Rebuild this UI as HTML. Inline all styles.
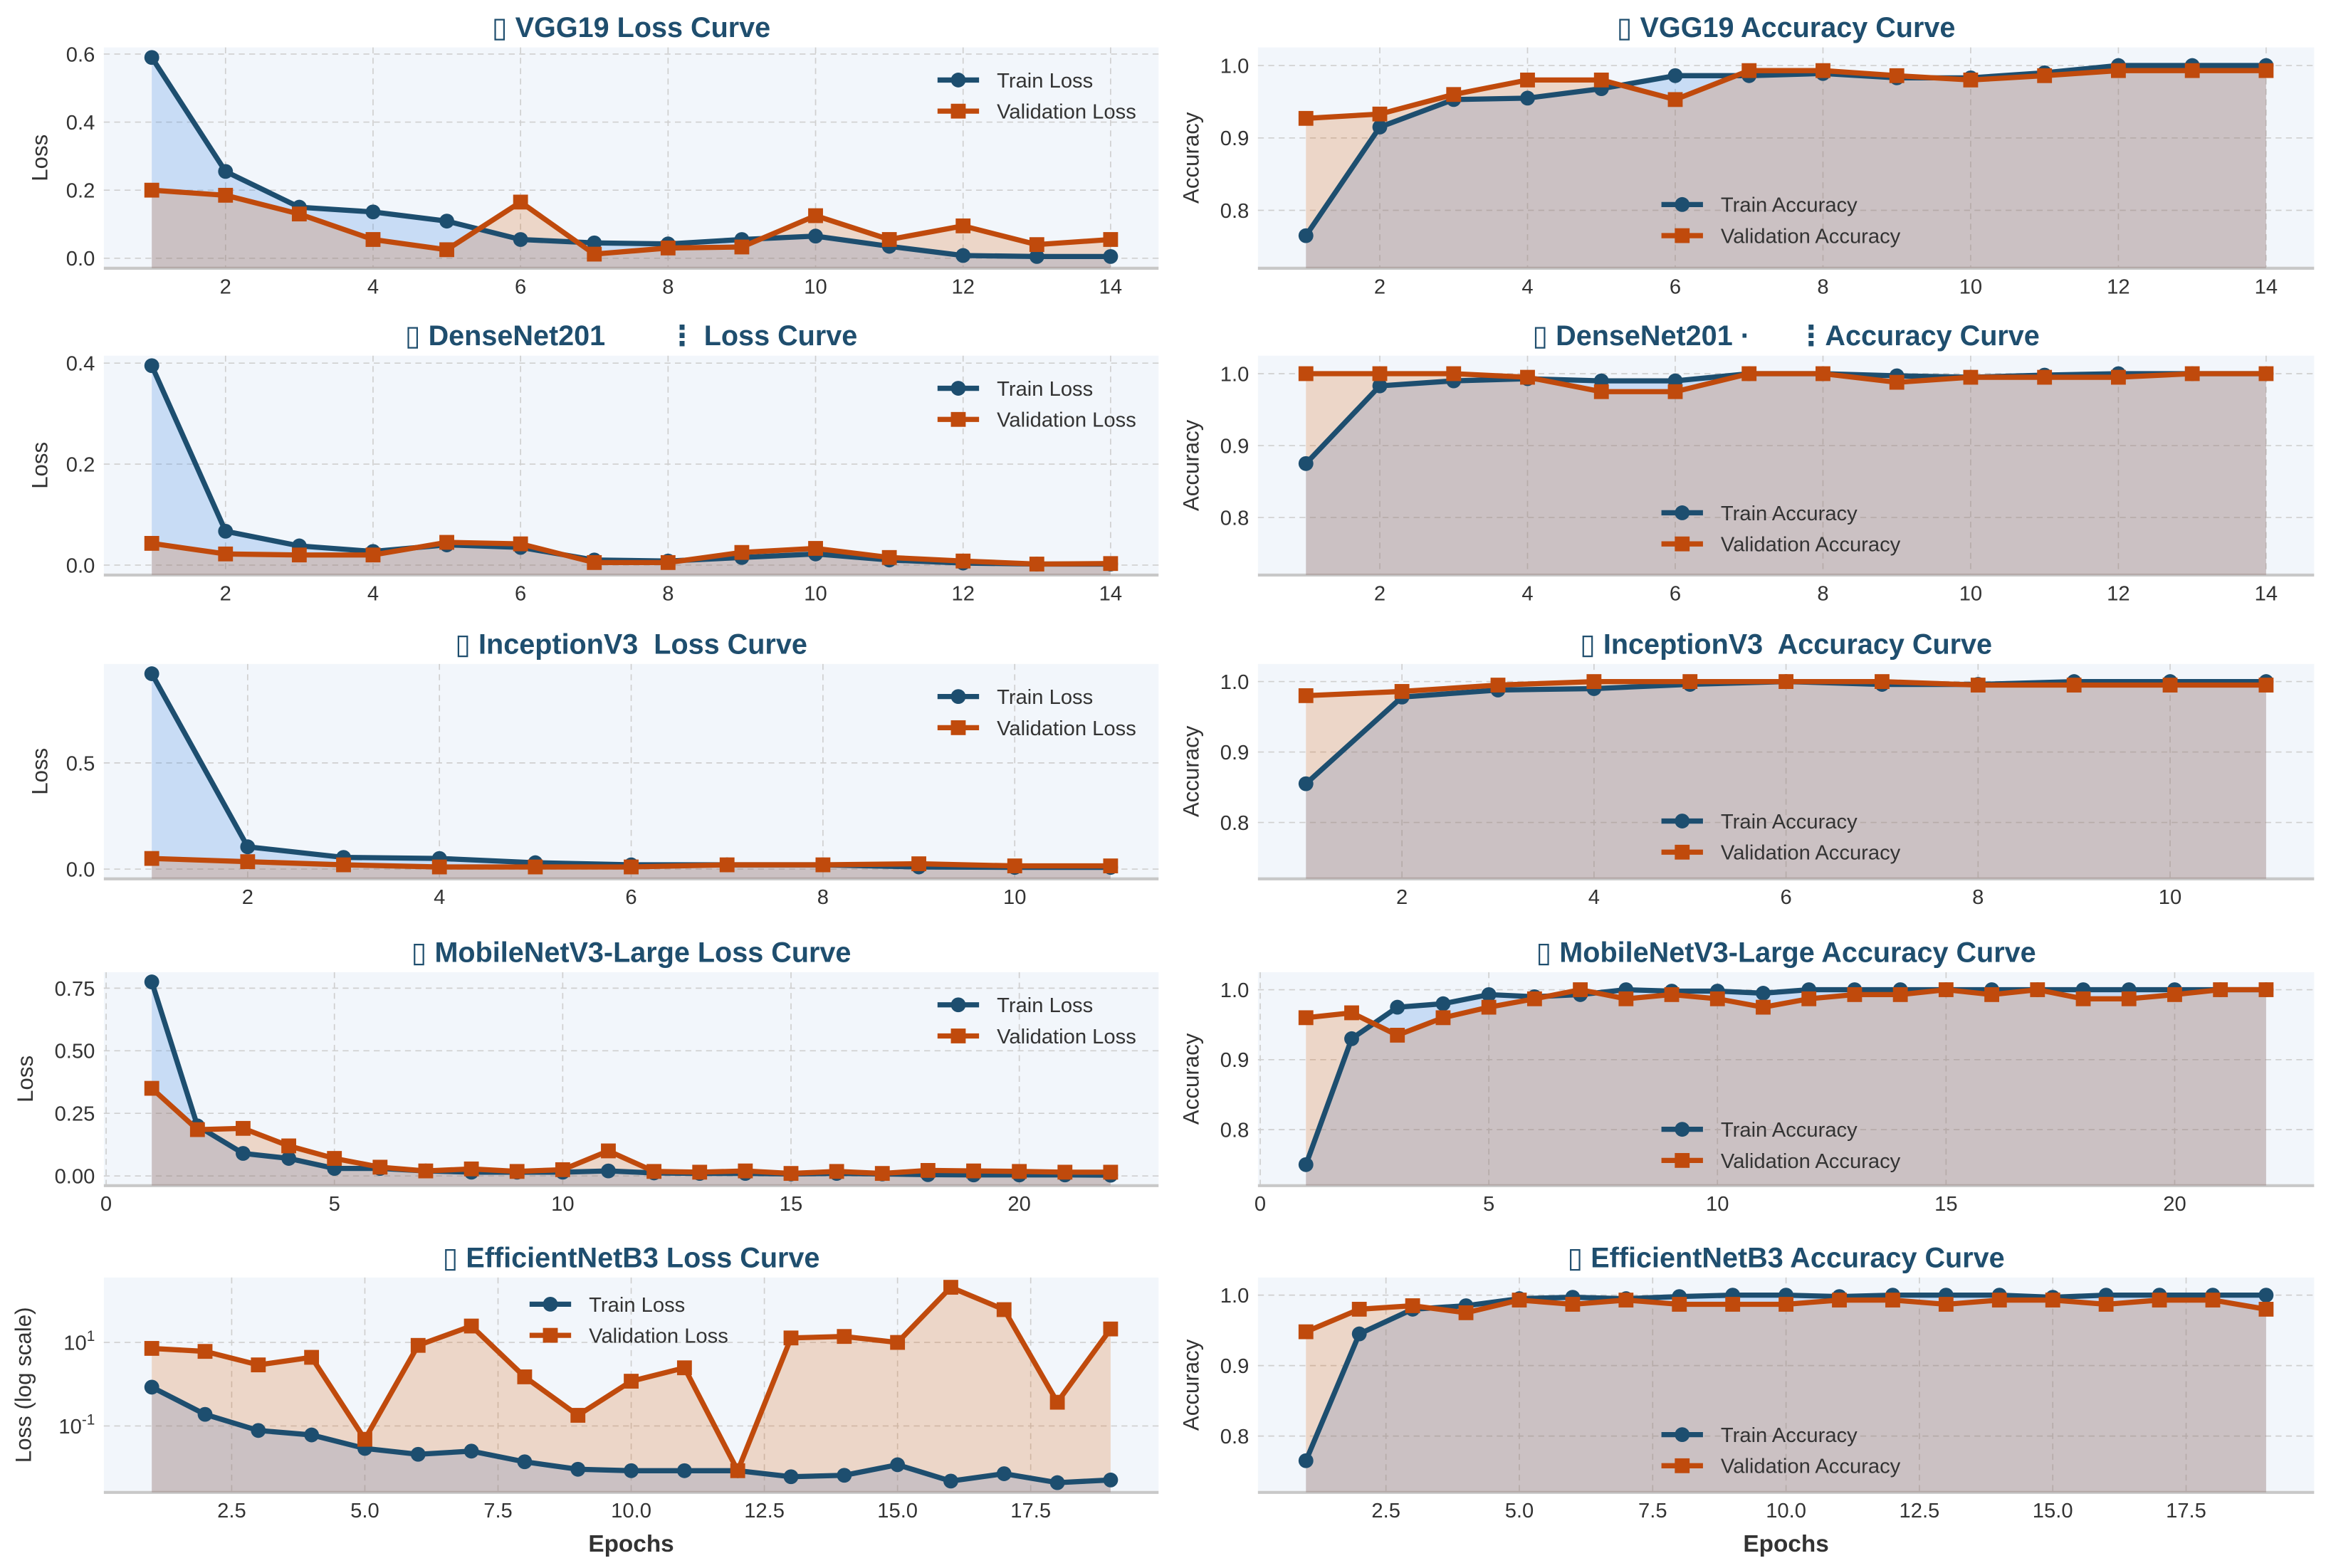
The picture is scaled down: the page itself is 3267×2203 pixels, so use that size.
<!DOCTYPE html>
<html><head><meta charset="utf-8">
<style>
html,body{margin:0;padding:0;background:#fff;}
svg{display:block;}
text{font-family:"Liberation Sans","DejaVu Sans",sans-serif;}
.pre{white-space:pre;}
</style></head>
<body>
<svg id="fig" xmlns="http://www.w3.org/2000/svg" width="3267" height="2203" viewBox="0 0 1568 1058" preserveAspectRatio="none"></svg>
<script>
// ---------- DATA ----------
const vggTrainLoss=[0.59,0.255,0.15,0.136,0.109,0.055,0.045,0.042,0.055,0.065,0.035,0.008,0.005,0.005];
const vggValLoss=[0.20,0.185,0.13,0.055,0.025,0.165,0.012,0.03,0.033,0.125,0.055,0.095,0.04,0.055];
const vggTrainAcc=[0.765,0.915,0.953,0.955,0.968,0.986,0.986,0.989,0.983,0.983,0.99,1.0,1.0,1.0];
const vggValAcc=[0.927,0.933,0.96,0.98,0.98,0.953,0.993,0.993,0.986,0.98,0.986,0.993,0.993,0.993];
const denseTrainLoss=[0.395,0.067,0.038,0.027,0.04,0.035,0.01,0.008,0.015,0.022,0.01,0.004,0.002,0.002];
const denseValLoss=[0.043,0.022,0.02,0.02,0.045,0.042,0.005,0.005,0.025,0.033,0.015,0.008,0.002,0.003];
const denseTrainAcc=[0.875,0.983,0.99,0.993,0.99,0.99,1.0,1.0,0.997,0.995,0.998,1.0,1.0,1.0];
const denseValAcc=[1.0,1.0,1.0,0.995,0.975,0.975,1.0,1.0,0.988,0.995,0.995,0.995,1.0,1.0];
const incTrainLoss=[0.92,0.105,0.055,0.05,0.03,0.02,0.02,0.02,0.01,0.008,0.008];
const incValLoss=[0.05,0.035,0.02,0.01,0.01,0.01,0.02,0.02,0.025,0.015,0.015];
const incTrainAcc=[0.855,0.978,0.988,0.99,0.996,1.0,0.996,0.996,1.0,1.0,1.0];
const incValAcc=[0.98,0.986,0.995,1.0,1.0,1.0,1.0,0.995,0.995,0.995,0.995];
const mobTrainLoss=[0.775,0.2,0.09,0.07,0.03,0.03,0.02,0.015,0.015,0.015,0.02,0.012,0.01,0.01,0.008,0.01,0.008,0.005,0.004,0.004,0.004,0.003];
const mobValLoss=[0.35,0.185,0.19,0.12,0.07,0.035,0.02,0.028,0.018,0.025,0.1,0.018,0.015,0.02,0.01,0.018,0.01,0.022,0.02,0.018,0.015,0.015];
const mobTrainAcc=[0.75,0.93,0.975,0.98,0.993,0.99,0.993,1.0,0.998,0.998,0.995,1.0,1.0,1.0,1.0,1.0,1.0,1.0,1.0,1.0,1.0,1.0];
const mobValAcc=[0.96,0.967,0.935,0.96,0.975,0.987,1.0,0.987,0.993,0.987,0.975,0.987,0.993,0.993,1.0,0.993,1.0,0.987,0.987,0.993,1.0,1.0];
const effTrainLoss=[0.85,0.19,0.078,0.061,0.029,0.021,0.025,0.0139,0.0092,0.0085,0.0085,0.0085,0.0061,0.0066,0.0118,0.0048,0.0072,0.0044,0.0051];
const effValLoss=[7.2,6.1,2.9,4.4,0.048,8.5,24.7,1.5,0.18,1.18,2.47,0.0085,12.8,13.9,10,209,61,0.37,21];
const effTrainAcc=[0.765,0.945,0.98,0.985,0.995,0.997,0.995,0.998,1.0,1.0,0.998,1.0,1.0,1.0,0.997,1.0,1.0,1.0,1.0];
const effValAcc=[0.948,0.98,0.985,0.975,0.993,0.987,0.993,0.987,0.987,0.987,0.993,0.993,0.987,0.993,0.993,0.987,0.993,0.993,0.98];
const modelNames=["VGG19","DenseNet201","InceptionV3","MobileNetV3-Large","EfficientNetB3"];
const lossTitles=["\u25AF VGG19 Loss Curve","\u25AF DenseNet201        \u22EE Loss Curve","\u25AF InceptionV3  Loss Curve","\u25AF MobileNetV3-Large Loss Curve","\u25AF EfficientNetB3 Loss Curve"];
const accTitles=["\u25AF VGG19 Accuracy Curve","\u25AF DenseNet201 \u00B7      \u22EEAccuracy Curve","\u25AF InceptionV3  Accuracy Curve","\u25AF MobileNetV3-Large Accuracy Curve","\u25AF EfficientNetB3 Accuracy Curve"];
const xTicksA=[2,4,6,8,10,12,14];
const xTicksInc=[2,4,6,8,10];
const xTicksMob=[0,5,10,15,20];
const xTicksEff=[2.5,5.0,7.5,10.0,12.5,15.0,17.5];
const yTicksVgg=[0,0.2,0.4,0.6];
const yTicksDense=[0,0.2,0.4];
const yTicksInc=[0,0.5];
const yTicksMob=[0,0.25,0.5,0.75];
const yTicksEff=[-1,1];
const yTicksAcc=[0.8,0.9,1.0];

// ---------- DRAWING ----------
const svg=document.getElementById('fig');
const NS='http://www.w3.org/2000/svg';
const TRAIN='#1d4e6f', VAL='#c04a0c';
function mk(tag,attrs,parent){const e=document.createElementNS(NS,tag);for(const k in attrs)e.setAttribute(k,attrs[k]);(parent||svg).appendChild(e);return e;}

const tops=[32,240,448,656,862], bottoms=[181,388,593,800,1007];
const lossSets=[[vggTrainLoss,vggValLoss,xTicksA,yTicksVgg,0],[denseTrainLoss,denseValLoss,xTicksA,yTicksDense,0],[incTrainLoss,incValLoss,xTicksInc,yTicksInc,0],[mobTrainLoss,mobValLoss,xTicksMob,yTicksMob,0],[effTrainLoss,effValLoss,xTicksEff,yTicksEff,1]];
const accSets=[[vggTrainAcc,vggValAcc,xTicksA],[denseTrainAcc,denseValAcc,xTicksA],[incTrainAcc,incValAcc,xTicksInc],[mobTrainAcc,mobValAcc,xTicksMob],[effTrainAcc,effValAcc,xTicksEff]];

function panel(i,isAcc){
  const set=isAcc?accSets[i]:lossSets[i];
  const tr=set[0], va=set[1], xt=set[2];
  const log=!isAcc && set[4]===1;
  const x0=isAcc?848:70, x1=isAcc?1560:781, y0=tops[i], y1=bottoms[i];
  const g=mk('g',{});
  
  
  const n=tr.length;
  const xmin=1-(n-1)*0.05, xmax=n+(n-1)*0.05;
  const X=v=>x0+(v-xmin)/(xmax-xmin)*(x1-x0);
  let Y, ymin, ymax;
  if(isAcc){ymin=0.72;ymax=1.025;Y=v=>y1-(v-ymin)/(ymax-ymin)*(y1-y0);}
  else if(log){
    const all=tr.concat(va).map(v=>Math.log10(v));
    const lo=Math.min(...all), hi=Math.max(...all), m=(hi-lo)*0.05;
    ymin=lo-m;ymax=hi+m;Y=v=>y1-(Math.log10(v)-ymin)/(ymax-ymin)*(y1-y0);
  } else {
    const all=tr.concat(va,[0]);
    const lo=Math.min(...all), hi=Math.max(...all), m=(hi-lo)*0.05;
    ymin=lo-m;ymax=hi+m;Y=v=>y1-(v-ymin)/(ymax-ymin)*(y1-y0);
  }
  const bg=mk('rect',{x:x0,y:y0,width:x1-x0,height:y1-y0,fill:'#f2f6fb'},g);
  
  
  xt.forEach(t=>{const l=mk('line',{x1:X(t),x2:X(t),y1:y0,y2:y1,stroke:'#cfcfcf','stroke-width':0.8,'stroke-dasharray':'4,3'},g);
    
    const tx=mk('text',{x:X(t),y:y1+17,'font-size':14,fill:'#333','text-anchor':'middle'},g);
    tx.textContent=(xt===xTicksEff)?t.toFixed(1):String(t);
    });
  const yt=isAcc?yTicksAcc:set[3];
  yt.forEach(t=>{const yy=log?Y(Math.pow(10,t)):Y(t);
    const l=mk('line',{x1:x0,x2:x1,y1:yy,y2:yy,stroke:'#cfcfcf','stroke-width':0.8,'stroke-dasharray':'4,3'},g);
    
    const tx=mk('text',{x:x0-6,y:yy+5,'font-size':14,fill:'#333','text-anchor':'end'},g);
    if(log){tx.textContent='10';const s=mk('tspan',{dy:-6,'font-size':10},tx);s.textContent=String(t);}
    else tx.textContent=isAcc?t.toFixed(1):(set[3]===yTicksMob?t.toFixed(2):t.toFixed(1));
    });
  const sp=mk('line',{x1:x0,x2:x1,y1:y1,y2:y1,stroke:'#c8c8c8','stroke-width':2},g);
  
  const clipId='clip'+i+(isAcc?'a':'l');
  const cp=mk('clipPath',{id:clipId},g);mk('rect',{x:x0,y:y0,width:x1-x0,height:y1-y0},cp);
  function area(arr,fill,name){
    let d='M'+X(1)+','+y1;
    arr.forEach((v,k)=>{d+=' L'+X(k+1)+','+Y(v);});
    d+=' L'+X(n)+','+y1+' Z';
    const p=mk('path',{d:d,fill:fill,'clip-path':'url(#'+clipId+')'},g);
    
  }
  area(tr,'rgba(74,144,226,0.25)','train-fill');
  area(va,'rgba(215,100,20,0.22)','validation-fill');
  function series(arr,col,sq,name){
    const pts=arr.map((v,k)=>X(k+1)+','+Y(v)).join(' ');
    const pl=mk('polyline',{points:pts,fill:'none',stroke:col,'stroke-width':3.5,'stroke-linejoin':'round'},g);
    
    arr.forEach((v,k)=>{let m;
      if(sq)m=mk('rect',{x:X(k+1)-5,y:Y(v)-5,width:10,height:10,fill:col},g);
      else m=mk('circle',{cx:X(k+1),cy:Y(v),r:5,fill:col},g);
      });
  }
  series(tr,TRAIN,false,'train');
  series(va,VAL,true,'validation');
  const ti=mk('text',{x:(x0+x1)/2,y:y0-7,'font-size':19,'font-weight':'bold',fill:'#1f4e6e','text-anchor':'middle','class':'pre'},g);
  ti.textContent=isAcc?accTitles[i]:lossTitles[i];
  
  const ylx=isAcc?808:(log?21:(i===3?22:32));
  const yl=mk('text',{x:ylx,y:(y0+y1)/2,'font-size':15,fill:'#333','text-anchor':'middle',transform:'rotate(-90 '+ylx+' '+((y0+y1)/2)+')'},g);
  yl.textContent=isAcc?'Accuracy':(log?'Loss (log scale)':'Loss');
  
  let lx,ly;
  if(isAcc){lx=1120;ly=y0+106;}else if(log){lx=357;ly=y0+18;}else{lx=632;ly=y0+22;}
  const labs=isAcc?['Train Accuracy','Validation Accuracy']:['Train Loss','Validation Loss'];
  [[TRAIN,false],[VAL,true]].forEach((c,k)=>{
    const yy=ly+k*21;
    const lg=mk('g',{},g);
    
    
    mk('line',{x1:lx,x2:lx+28,y1:yy,y2:yy,stroke:c[0],'stroke-width':3.5},lg);
    if(c[1])mk('rect',{x:lx+9,y:yy-5,width:10,height:10,fill:c[0]},lg);
    else mk('circle',{cx:lx+14,cy:yy,r:5,fill:c[0]},lg);
    const t=mk('text',{x:lx+40,y:yy+5,'font-size':14,fill:'#333'},lg);t.textContent=labs[k];
  });
  if(i===4){
    const xl=mk('text',{x:(x0+x1)/2,y:1047,'font-size':16,'font-weight':'bold',fill:'#333','text-anchor':'middle'},g);
    xl.textContent='Epochs';
    
  }
}
for(let i=0;i<5;i++){panel(i,false);panel(i,true);}
</script>
</body></html>
